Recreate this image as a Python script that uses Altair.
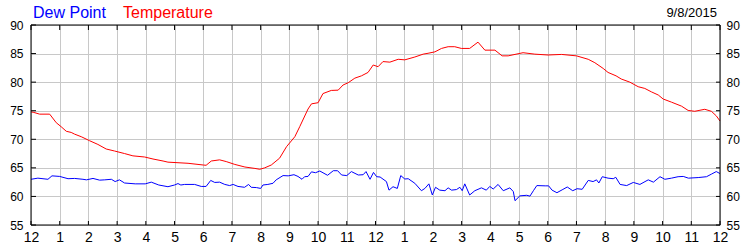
import altair as alt
import pandas as pd

# Temperature (hour of day, °F)
temp_h = [0.0, 0.1, 0.3, 0.65, 0.88, 1.05, 1.23, 1.4, 1.52, 1.75, 2.04, 2.33, 2.62, 2.91, 3.26, 3.55,
          3.96, 4.25, 4.6, 4.77, 5.47, 6.0, 6.1, 6.28, 6.57, 6.8, 7.1, 7.45, 7.8, 7.97, 8.14, 8.37,
          8.66, 8.9, 9.19, 9.36, 9.65, 9.77, 10.0, 10.17, 10.46, 10.7, 10.87, 11.05, 11.28, 11.51,
          11.74, 11.92, 12.09, 12.26, 12.5, 12.79, 13.02, 13.37, 13.66, 13.83, 14.07, 14.3, 14.53,
          14.76, 14.99, 15.28, 15.57, 15.81, 16.16, 16.41, 16.62, 17.14, 17.55, 18.01, 18.48, 19.0,
          19.41, 19.64, 19.93, 20.1, 20.38, 20.56, 20.86, 21.15, 21.38, 21.61, 21.85, 22.02, 22.31,
          22.66, 22.89, 23.12, 23.47, 23.7, 23.87, 24.0]
temp_v = [74.8, 74.7, 74.4, 74.4, 72.9, 72.2, 71.4, 71.2, 70.9, 70.45, 69.75, 69.1, 68.3, 67.95, 67.5, 67.1,
          66.9, 66.55, 66.2, 66.0, 65.8, 65.5, 65.45, 66.2, 66.4, 66.1, 65.6, 65.15, 64.9, 64.75, 65.0, 65.5,
          66.7, 68.7, 70.45, 72.2, 75.3, 76.2, 76.4, 78.0, 78.55, 78.6, 79.5, 79.9, 80.7, 81.1,
          81.7, 83.0, 82.7, 83.6, 83.5, 84.0, 83.9, 84.4, 84.9, 85.05, 85.3, 85.9, 86.2,
          86.2, 85.9, 85.9, 87.0, 85.6, 85.6, 84.6, 84.6, 85.15, 84.9, 84.75, 84.85, 84.6,
          84.0, 83.4, 82.4, 81.7, 81.1, 80.55, 80.0, 79.2, 78.9, 78.3, 77.75, 77.05, 76.5,
          75.8, 75.05, 74.9, 75.25, 74.9, 74.1, 73.2]

# Dew point (hour of day, °F)
dew_h = [0.0, 0.24, 0.59, 0.73, 1.0, 1.29, 1.52, 1.81, 1.93, 2.16, 2.39, 2.57, 2.8, 2.93, 3.08, 3.26,
         3.63, 3.98, 4.19, 4.45, 4.77, 5.0, 5.12, 5.22, 5.35, 5.7, 5.93, 6.1, 6.26, 6.4, 6.57, 6.75,
         6.92, 7.04, 7.21, 7.44, 7.58, 7.67, 7.85, 8.0, 8.08, 8.25, 8.43, 8.54, 8.78, 8.96, 9.16,
         9.3, 9.44, 9.53, 9.65, 9.77, 9.91, 10.06, 10.33, 10.53, 10.68, 10.82, 11.0, 11.16, 11.4,
         11.57, 11.67, 11.81, 11.93, 12.04, 12.16, 12.38, 12.47, 12.61, 12.76, 12.88, 13.02, 13.14,
         13.37, 13.6, 13.72, 13.86, 13.98, 14.09, 14.24, 14.42, 14.53, 14.65, 14.82, 14.94, 15.02,
         15.11, 15.28, 15.46, 15.69, 15.86, 15.98, 16.1, 16.27, 16.45, 16.68, 16.8, 16.86, 17.03,
         17.27, 17.38, 17.5, 17.62, 17.91, 18.03, 18.15, 18.32, 18.5, 18.68, 18.87, 19.02, 19.2,
         19.41, 19.58, 19.7, 19.78, 19.9, 20.1, 20.28, 20.37, 20.52, 20.75, 20.98, 21.21, 21.5,
         21.68, 21.91, 22.08, 22.31, 22.54, 22.72, 22.9, 23.24, 23.53, 23.7, 23.87, 24.0]
dew_v = [63.0, 63.2, 63.0, 63.6, 63.5, 63.1, 63.15, 63.0, 62.9, 63.15, 62.85, 62.9, 63.0, 62.6, 62.9, 62.35,
         62.2, 62.2, 62.5, 62.0, 61.7, 62.0, 62.25, 62.0, 62.1, 62.1, 61.75, 61.75, 62.8, 62.45, 62.5, 62.1,
         61.9, 62.1, 61.75, 61.6, 62.1, 61.6, 61.55, 61.4, 62.0, 62.1, 62.3, 62.9, 63.65, 63.6, 63.8,
         63.5, 63.0, 63.45, 63.5, 64.3, 64.15, 64.45, 63.7, 64.5, 64.5, 63.75, 63.65, 64.35, 63.75,
         63.8, 64.35, 63.0, 64.2, 63.45, 63.4, 62.6, 61.1, 61.7, 61.4, 63.65, 63.05, 63.1,
         62.3, 61.0, 61.4, 62.2, 60.25, 61.6, 61.1, 61.0, 61.5, 61.1, 61.2, 61.6, 61.0,
         62.2, 60.25, 61.0, 61.5, 61.1, 61.75, 61.3, 62.1, 61.0, 61.5, 60.85, 59.25, 60.1,
         60.2, 60.05, 61.0, 61.9, 61.85, 61.85, 61.1, 60.65, 61.15, 61.65, 61.0, 61.35, 61.25,
         62.8, 62.6, 62.9, 62.35, 63.45, 63.2, 63.1, 63.35, 62.1, 61.9, 62.45, 62.1, 62.9,
         62.5, 63.45, 63.0, 63.2, 63.45, 63.5, 63.2, 63.3, 63.45, 63.9, 64.35, 64.0]

series_names = ["Dew Point", "Temperature"]
series_colors = ["#0000ff", "#ff0000"]
hour_ticks = list(range(0, 25))
y_ticks = list(range(55, 91, 5))
date_label = "9/8/2015"

FONT = "Liberation Sans"
W, H = 689, 200

temp_df = pd.DataFrame({"h": temp_h, "v": temp_v, "s": "Temperature"})
dew_df = pd.DataFrame({"h": dew_h, "v": dew_v, "s": "Dew Point"})
xt_df = pd.DataFrame({"h": hour_ticks})
yt_df = pd.DataFrame({"v": y_ticks})

xscale = alt.Scale(domain=[0, 24], nice=False, zero=False)
yscale = alt.Scale(domain=[55, 90], nice=False, zero=False)
cscale = alt.Scale(domain=series_names, range=series_colors)

x_axis = alt.Axis(values=hour_ticks, labelExpr="datum.value % 12 == 0 ? '12' : format(datum.value % 12, 'd')",
                  grid=True, gridColor="#c8c8c8", ticks=False, domain=False, title=None,
                  labelFont=FONT, labelFontSize=14, labelColor="#000000", labelPadding=5,
                  labelFlush=False, labelOverlap=False)
yl_axis = alt.Axis(values=y_ticks, grid=True, gridColor="#c8c8c8", ticks=False, domain=False, title=None,
                   labelFont=FONT, labelFontSize=12, labelColor="#000000", labelPadding=8, orient="left")
yr_axis = alt.Axis(values=y_ticks, grid=False, ticks=False, domain=False, title=None,
                   labelFont=FONT, labelFontSize=12, labelColor="#000000", labelPadding=6, orient="right")

X = alt.X("h:Q", scale=xscale, axis=x_axis)

temp_line = alt.Chart(temp_df).mark_line(strokeWidth=1).encode(
    x=X,
    y=alt.Y("v:Q", scale=yscale, axis=yl_axis),
    color=alt.Color("s:N", scale=cscale, legend=None),
)
dew_line = alt.Chart(dew_df).mark_line(strokeWidth=1).encode(
    x=X,
    y=alt.Y("v:Q", scale=yscale, axis=yr_axis),
    color=alt.Color("s:N", scale=cscale, legend=None),
)

tick_bottom = alt.Chart(xt_df).mark_rule(color="black", strokeWidth=1).encode(
    x=X, y=alt.value(H - 4), y2=alt.value(H))
tick_top = alt.Chart(xt_df).mark_rule(color="black", strokeWidth=1).encode(
    x=X, y=alt.value(0), y2=alt.value(5))
tick_left = alt.Chart(yt_df).mark_rule(color="black", strokeWidth=1).encode(
    y=alt.Y("v:Q", scale=yscale, axis=None), x=alt.value(0), x2=alt.value(5))
tick_right = alt.Chart(yt_df).mark_rule(color="black", strokeWidth=1).encode(
    y=alt.Y("v:Q", scale=yscale, axis=None), x=alt.value(W - 4), x2=alt.value(W))

border = alt.Chart(pd.DataFrame({"a": [0]})).mark_rect(
    fill=None, fillOpacity=0, stroke="black", strokeWidth=1).encode(
    x=alt.value(0), x2=alt.value(W), y=alt.value(0), y2=alt.value(H))

t1 = alt.Chart(pd.DataFrame({"t": [series_names[0]]})).mark_text(
    font=FONT, fontSize=16, color=series_colors[0], align="left", baseline="alphabetic").encode(
    text="t:N", x=alt.value(2), y=alt.value(-7))
t2 = alt.Chart(pd.DataFrame({"t": [series_names[1]]})).mark_text(
    font=FONT, fontSize=16, color=series_colors[1], align="left", baseline="alphabetic").encode(
    text="t:N", x=alt.value(92), y=alt.value(-7))
t3 = alt.Chart(pd.DataFrame({"t": [date_label]})).mark_text(
    font=FONT, fontSize=13, color="#000000", align="right", baseline="alphabetic").encode(
    text="t:N", x=alt.value(686), y=alt.value(-8))

chart = alt.layer(
    temp_line, dew_line, tick_bottom, tick_top, tick_left, tick_right, border, t1, t2, t3
).resolve_axis(y="independent").properties(
    width=W, height=H,
    autosize=alt.AutoSizeParams(type="none"),
    padding={"left": 31, "top": 25, "right": 30, "bottom": 25},
    background="white",
).configure_view(stroke=None)

chart.save("out.html", embed_options={"renderer": "svg", "actions": False})
